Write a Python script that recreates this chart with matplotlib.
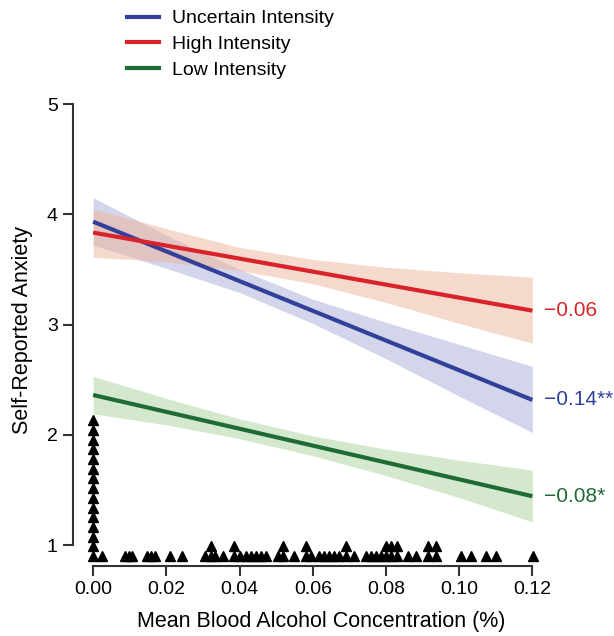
import matplotlib
matplotlib.use("Agg")
import matplotlib.pyplot as plt
from matplotlib import font_manager
from matplotlib.lines import Line2D
from collections import Counter

names = {f.name for f in font_manager.fontManager.ttflist}
if "Liberation Sans Narrow" in names:
    plt.rcParams['font.family'] = ['Liberation Sans Narrow', 'DejaVu Sans']
else:
    plt.rcParams['font.family'] = ['Liberation Sans', 'DejaVu Sans']

# fitted lines (end points) and confidence bands
band_x = [0.0, 0.02, 0.04, 0.06, 0.08, 0.10, 0.12]

uncertain_line = [3.933, 2.316]
uncertain_hi = [4.15, 3.81, 3.50, 3.23, 3.02, 2.82, 2.62]
uncertain_lo = [3.72, 3.51, 3.29, 3.01, 2.69, 2.35, 2.02]

high_line = [3.834, 3.126]
high_hi = [4.05, 3.87, 3.70, 3.59, 3.52, 3.47, 3.43]
high_lo = [3.61, 3.57, 3.49, 3.37, 3.20, 3.01, 2.83]

low_line = [2.361, 1.443]
low_hi = [2.53, 2.33, 2.145, 1.99, 1.87, 1.77, 1.68]
low_lo = [2.19, 2.09, 1.965, 1.81, 1.63, 1.43, 1.21]

slopes = ["\u22120.14**", "\u22120.06", "\u22120.08*"]

# observed mean BAC per participant (strip chart, stacked)
bac = ([0.0] * 15 + [0.0025, 0.0086, 0.0098, 0.0107, 0.0146, 0.0157, 0.0168,
       0.0211, 0.0243, 0.0306, 0.0323, 0.0323, 0.0334, 0.0355,
       0.0384, 0.0384, 0.0400, 0.0418, 0.0432, 0.0446, 0.0459, 0.0473,
       0.0505, 0.0518, 0.0518, 0.0550, 0.0582, 0.0582, 0.0596, 0.0618,
       0.0632, 0.0645, 0.0659, 0.0673, 0.0691, 0.0691, 0.0714,
       0.0746, 0.0759, 0.0773, 0.0786, 0.0800, 0.0800, 0.0814, 0.0814,
       0.0829, 0.0829, 0.0859, 0.0882, 0.0914, 0.0914, 0.0936, 0.0936,
       0.1005, 0.1032, 0.1073, 0.1100, 0.1203])

c_blue = "#33409a"
c_red = "#d9232a"
c_green = "#1f6b35"

fig = plt.figure(figsize=(6.14, 6.36), dpi=100)
ax = fig.add_axes([73 / 614, 70 / 636, 496 / 614, 473 / 636])

series = [
    ("Uncertain Intensity", uncertain_line, uncertain_lo, uncertain_hi, c_blue, "#a9acd6"),
    ("High Intensity", high_line, high_lo, high_hi, c_red, "#efb59c"),
    ("Low Intensity", low_line, low_lo, low_hi, c_green, "#a8d39c"),
]

for name, ln, lo, hi, col, fill in series:
    ax.fill_between(band_x, lo, hi, color=fill, alpha=0.5, lw=0, zorder=1)
for name, ln, lo, hi, col, fill in series:
    ax.plot([band_x[0], band_x[-1]], ln, color=col, lw=3, solid_capstyle='butt', zorder=3)

for (name, ln, lo, hi, col, fill), s in zip(series, slopes):
    ax.text(0.1232, ln[1], s, color=col, fontsize=15, va='center', ha='left')

# stacked triangles
seen = Counter()
xs, ys = [], []
for v in bac:
    xs.append(v)
    ys.append(0.90 + 0.088 * seen[v])
    seen[v] += 1
ax.plot(xs, ys, linestyle='none', marker='^', color='black', markersize=7.5, zorder=4)

ax.set_xlim(-0.0055, 0.13)
ax.set_ylim(0.81, 5.1)
for s in ['top', 'right']:
    ax.spines[s].set_visible(False)
ax.spines['left'].set_bounds(1, 5)
ax.spines['bottom'].set_bounds(0, 0.12)
for s in ['left', 'bottom']:
    ax.spines[s].set_color('#333333')
    ax.spines[s].set_linewidth(1.5)
ax.set_yticks([1, 2, 3, 4, 5])
ax.set_xticks([0, 0.02, 0.04, 0.06, 0.08, 0.10, 0.12])
ax.set_xticklabels(["0.00", "0.02", "0.04", "0.06", "0.08", "0.10", "0.12"])
ax.tick_params(axis='both', length=7, width=1.5, color='#333333', labelsize=14, pad=4)
ax.set_xlabel("Mean Blood Alcohol Concentration (%)", fontsize=15.5, labelpad=9)
ax.set_ylabel("Self-Reported Anxiety", fontsize=15.5, labelpad=10)

handles = [Line2D([], [], color=col, lw=3) for _, _, _, _, col, _ in series]
labels = [name for name, *_ in series]
fig.legend(handles, labels, loc='upper left', bbox_to_anchor=(117 / 614, 1.0),
           frameon=False, fontsize=14, handlelength=1.65, labelspacing=0.43,
           handletextpad=0.7, borderaxespad=0.1)

fig.savefig("out.png", dpi=100)
